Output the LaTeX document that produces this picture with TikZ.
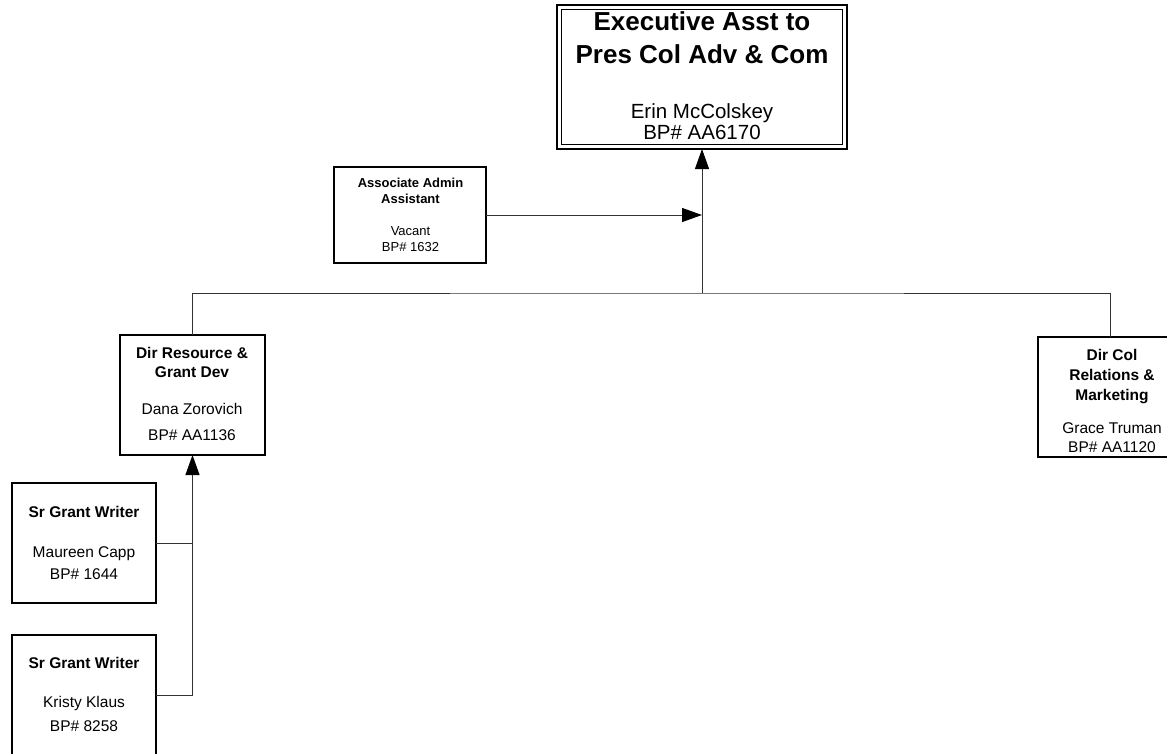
\documentclass[tikz,border=0pt]{standalone}
\usepackage{fontspec}
\setmainfont{Liberation Sans}
\usetikzlibrary{arrows.meta}
\newcommand\orgTitle{\fontsize{26}{30}\selectfont\bfseries}
\newcommand\orgName{\fontsize{20.5}{24}\selectfont}
\newcommand\orgMidB{\fontsize{15.5}{18}\selectfont\bfseries}
\newcommand\orgMid{\fontsize{15.5}{18}\selectfont}
\newcommand\orgSmB{\fontsize{13}{15}\selectfont\bfseries}
\newcommand\orgSm{\fontsize{13}{15}\selectfont}
\begin{document}
\begin{tikzpicture}[x=1pt,y=-1pt,
  box/.style={draw=black,line width=1.6pt,rectangle,inner sep=0pt,outer sep=0pt,fill=white},
  conn/.style={draw=black!80,line width=1pt},
  tip/.style={-{Triangle[length=20pt,width=14pt,color=black]}},
  txt/.style={anchor=base,inner sep=0pt,outer sep=0pt}]
\useasboundingbox (0,0) rectangle (1167,753);
\fill[white] (0,0) rectangle (1167,753);

% boxes
\node[box,minimum width=290pt,minimum height=144pt] (exec) at (702,77) {};
\draw[box] ([shift={(4.5,4.5)}]exec.north west) rectangle ([shift={(-4.5,-4.5)}]exec.south east);
\node[box,minimum width=152pt,minimum height=96pt] (assoc) at (410,215) {};
\node[box,minimum width=145pt,minimum height=120pt] (dres) at (192.5,395) {};
\node[box,minimum width=144pt,minimum height=120pt] (dcol) at (1110,397) {};
\node[box,minimum width=144pt,minimum height=120pt] (sgw1) at (84,543) {};
\node[box,minimum width=144pt,minimum height=120pt] (sgw2) at (84,695) {};

% connectors
\coordinate (bus) at (702,293);
\draw[conn,tip] (bus) -- (exec.south);
\draw[conn,tip] (assoc.east) -- (assoc.east -| exec.south);
\draw[conn] (dres.north) |- (bus) -| (dcol.north);
\draw[conn,tip] (sgw2.east) -| (dres.south);
\draw[conn] (sgw1.east) -- (sgw1.east -| dres.south);

% texts
\node[txt,font=\orgTitle] (exec-t1) at (702,30) {Executive Asst to};
\node[txt,font=\orgTitle] (exec-t2) at (702,63) {Pres Col Adv \& Com};
\node[txt,font=\orgName] (exec-n) at (702,118) {Erin McColskey};
\node[txt,font=\orgName] (exec-b) at (702,139) {BP\# AA6170};

\node[txt,font=\orgSmB] (assoc-t1) at (410.5,187) {Associate Admin};
\node[txt,font=\orgSmB] (assoc-t2) at (410.5,203) {Assistant};
\node[txt,font=\orgSm] (assoc-n) at (410.5,235) {Vacant};
\node[txt,font=\orgSm] (assoc-b) at (410.5,251) {BP\# 1632};

\node[txt,font=\orgMidB] (dres-t1) at (192,358) {Dir Resource \&};
\node[txt,font=\orgMidB] (dres-t2) at (192,377) {Grant Dev};
\node[txt,font=\orgMid] (dres-n) at (192,414) {Dana Zorovich};
\node[txt,font=\orgMid] (dres-b) at (192,440) {BP\# AA1136};

\node[txt,font=\orgMidB] (dcol-t1) at (1112,360) {Dir Col};
\node[txt,font=\orgMidB] (dcol-t2) at (1112,380) {Relations \&};
\node[txt,font=\orgMidB] (dcol-t3) at (1112,400) {Marketing};
\node[txt,font=\orgMid] (dcol-n) at (1112,433) {Grace Truman};
\node[txt,font=\orgMid] (dcol-b) at (1112,452) {BP\# AA1120};

\node[txt,font=\orgMidB] (sgw1-t) at (84,517) {Sr Grant Writer};
\node[txt,font=\orgMid] (sgw1-n) at (84,557) {Maureen Capp};
\node[txt,font=\orgMid] (sgw1-b) at (84,579) {BP\# 1644};

\node[txt,font=\orgMidB] (sgw2-t) at (84,668) {Sr Grant Writer};
\node[txt,font=\orgMid] (sgw2-n) at (84,707) {Kristy Klaus};
\node[txt,font=\orgMid] (sgw2-b) at (84,731) {BP\# 8258};
\end{tikzpicture}
\end{document}
